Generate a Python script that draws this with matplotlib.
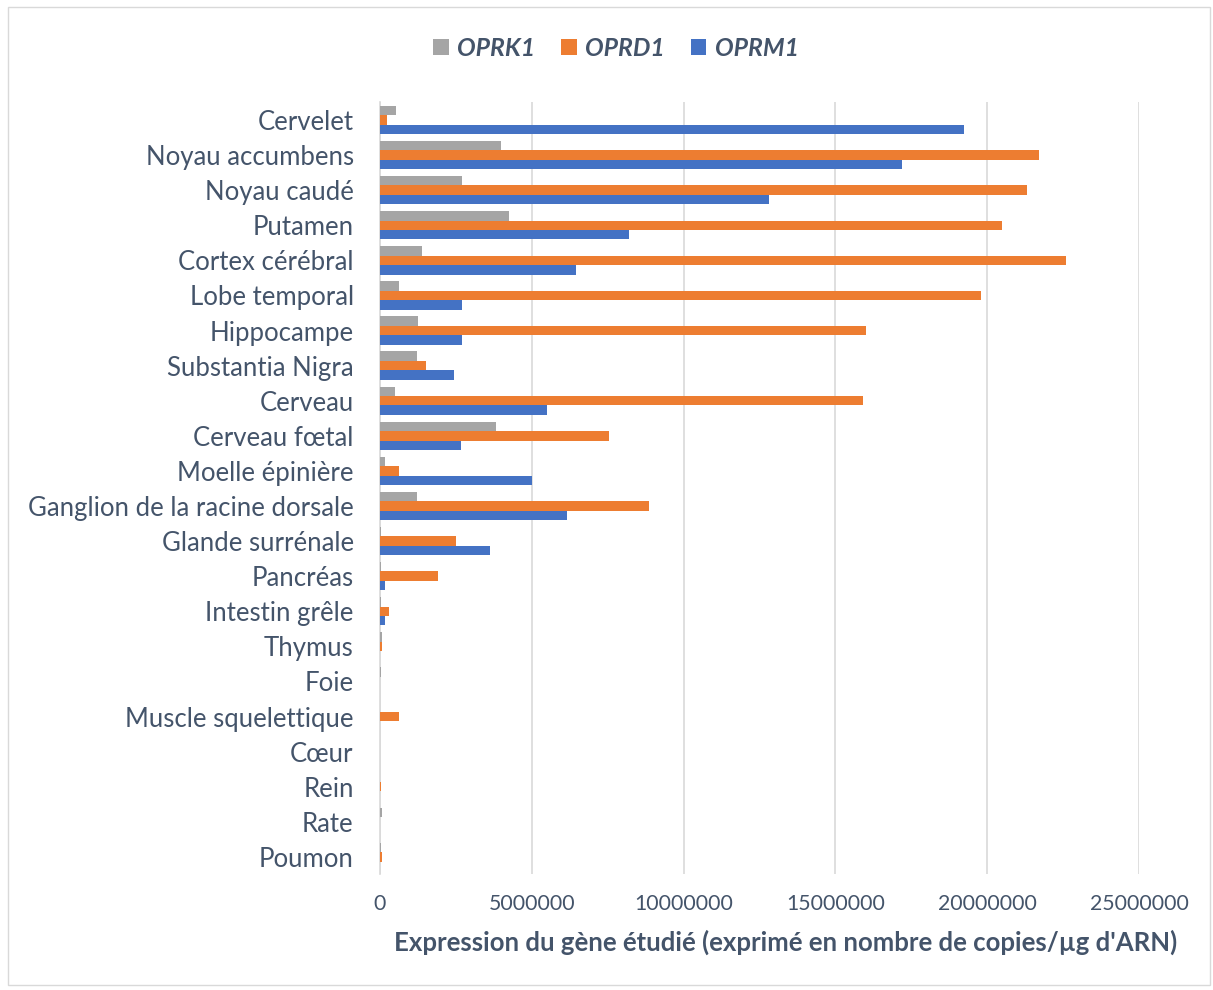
import matplotlib
matplotlib.use("Agg")
import matplotlib.pyplot as plt
from matplotlib.patches import Rectangle
import numpy as np

categories = ["Cervelet", "Noyau accumbens", "Noyau caudé", "Putamen", "Cortex cérébral",
              "Lobe temporal", "Hippocampe", "Substantia Nigra", "Cerveau", "Cerveau fœtal",
              "Moelle épinière", "Ganglion de la racine dorsale", "Glande surrénale", "Pancréas",
              "Intestin grêle", "Thymus", "Foie", "Muscle squelettique", "Cœur", "Rein", "Rate", "Poumon"]

oprk1 = [510000, 3980000, 2690000, 4250000, 1370000, 640000, 1240000, 1210000, 480000, 3820000,
         150000, 1210000, 30000, 20000, 20000, 80000, 20000, 0, 0, 0, 60000, 20000]
oprd1 = [240000, 21700000, 21300000, 20500000, 22600000, 19800000, 16000000, 1500000, 15900000, 7550000,
         610000, 8870000, 2490000, 1900000, 280000, 50000, 0, 610000, 0, 20000, 0, 60000]
oprm1 = [19250000, 17200000, 12800000, 8210000, 6460000, 2690000, 2690000, 2430000, 5500000, 2660000,
         5000000, 6160000, 3620000, 180000, 180000, 0, 0, 0, 0, 0, 0, 0]

series_names = ["OPRK1", "OPRD1", "OPRM1"]
colors = ["#A5A5A5", "#ED7D31", "#4472C4"]
xticks = [0, 5000000, 10000000, 15000000, 20000000, 25000000]
xlabel = "Expression du gène étudié (exprimé en nombre de copies/µg d'ARN)"

plt.rcParams['font.family'] = ['Lato', 'DejaVu Sans']
text_color = "#44546A"

fig = plt.figure(figsize=(12.13, 9.9), dpi=100)
ax = fig.add_axes([0.3133, 0.1167, 0.939 - 0.3133, 0.8965 - 0.1167])

y = np.arange(len(categories))
h = 0.27
for k, (vals, name, col) in enumerate(zip([oprk1, oprd1, oprm1], series_names, colors)):
    ax.barh(y + (k - 1) * h, vals, height=h, color=col, label=name, zorder=3)

ax.set_ylim(len(categories) - 0.5, -0.5)
ax.set_xlim(0, 25000000)
ax.set_yticks(y)
ax.set_yticklabels(categories, fontsize=18.5, color=text_color)
ax.set_xticks(xticks)
ax.set_xticklabels([str(v) for v in xticks], fontsize=15.3, color=text_color)
ax.tick_params(axis='both', length=0)
ax.tick_params(axis='y', pad=19)
ax.tick_params(axis='x', pad=14)
ax.grid(axis='x', color="#D9D9D9", linewidth=1.2, zorder=0)
for s in ["top", "right", "bottom"]:
    ax.spines[s].set_visible(False)
ax.spines["left"].set_color("#D9D9D9")
ax.spines["left"].set_linewidth(1.2)
ax.set_xlabel(xlabel, fontsize=18.5, fontweight='bold', color=text_color, labelpad=10)
ax.xaxis.set_label_coords(0.534, -0.072)

leg = fig.legend(loc='center', bbox_to_anchor=(0.508, 0.951), ncol=3, frameon=False,
                 prop={'size': 17.8, 'weight': 'bold', 'style': 'italic'},
                 handlelength=0.62, handleheight=0.62, handletextpad=0.35, columnspacing=1.05)
for t in leg.get_texts():
    t.set_color(text_color)

fig.patches.append(Rectangle((8 / 1213, 5 / 990), 1202 / 1213, 978 / 990, transform=fig.transFigure,
                             fill=False, edgecolor="#D9D9D9", linewidth=1))

fig.savefig("out.png", dpi=100, facecolor="white")
